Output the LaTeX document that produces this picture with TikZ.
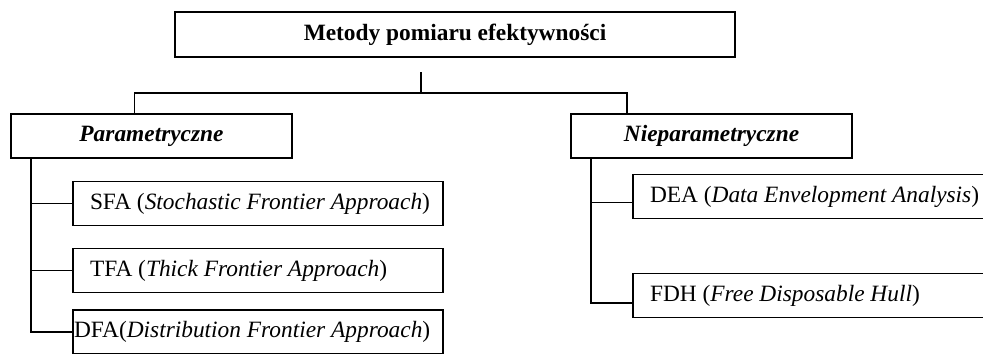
\documentclass[tikz,border=0pt]{standalone}
\usepackage{fontspec}
\setmainfont{Liberation Serif}
\usepackage{tikz}

\begin{document}
\fontsize{13.3pt}{16pt}\selectfont
\begin{tikzpicture}[line width=1.1pt,
  glowny/.style={draw,minimum width=11.2cm,minimum height=0.9cm,font=\bfseries},
  grupa/.style={draw,minimum width=5.62cm,minimum height=0.88cm,font=\bfseries\itshape},
  metoda/.style={draw,inner xsep=0.02cm,minimum height=0.88cm,
    execute at begin node={\hbox to 7.36cm\bgroup},execute at end node={\hfil\egroup}},
  wciecie/.style={execute at begin node=\hspace*{0.32cm}}]
\useasboundingbox (0,0) rectangle (19.66,-7.06);
\node[glowny] (m) at (9.1,-0.69) {Metody pomiaru efektywności};
\node[grupa] (par) at (3.03,-2.72) {Parametryczne};
\node[grupa] (npar) at (14.23,-2.72) {Nieparametryczne};
\node[metoda,wciecie] (sfa) at (5.16,-4.07) {SFA (\textit{Stochastic Frontier Approach})};
\node[metoda,wciecie] (tfa) at (5.16,-5.41) {TFA (\textit{Thick Frontier Approach})};
\node[metoda] (dfa) at (5.16,-6.64) {DFA(\textit{Distribution Frontier Approach})};
\node[metoda,wciecie] (dea) at (16.36,-3.93) {DEA (\textit{Data Envelopment Analysis})};
\node[metoda,wciecie] (fdh) at (16.36,-5.91) {FDH (\textit{Free Disposable Hull})};
% rozgalezienie
\coordinate (pien) at (8.42,-1.44);
\coordinate (rozw) at (8.42,-1.86);
\draw (pien) -- (rozw);
\draw ([xshift=-0.34cm]par.north) |- (rozw) -| ([xshift=-1.69cm]npar.north);
% lewa galaz
\coordinate (lp) at ([xshift=0.42cm]par.south west);
\draw (lp) |- (dfa.west);
\draw (sfa.west) -- (sfa.west -| lp);
\draw (tfa.west) -- (tfa.west -| lp);
% prawa galaz
\coordinate (pp) at ([xshift=0.42cm]npar.south west);
\draw (pp) |- ([yshift=-0.15cm]fdh.west);
\draw ([yshift=-0.12cm]dea.west) -- ([yshift=-0.12cm]dea.west -| pp);
\end{tikzpicture}
\end{document}
